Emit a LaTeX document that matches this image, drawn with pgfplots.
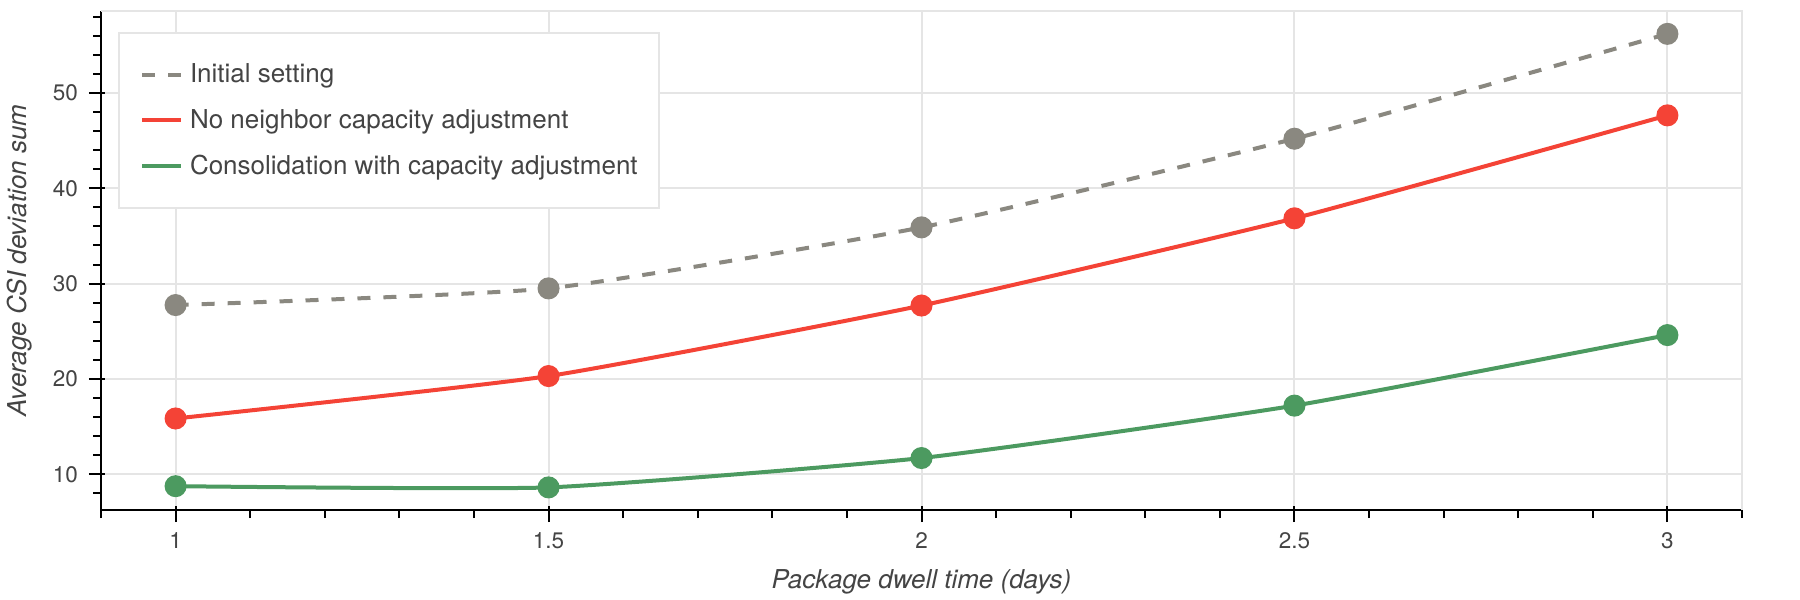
\documentclass[border=0pt]{standalone}
\usepackage{pgfplots}
\pgfplotsset{compat=1.18}
\usepackage{fontspec}
\setmainfont{TeX Gyre Heros}

\definecolor{inigray}{HTML}{8A8880}
\definecolor{nored}{HTML}{F44336}
\definecolor{congreen}{HTML}{4C9A60}
\definecolor{gridgray}{HTML}{E5E5E5}
\definecolor{txt}{HTML}{444444}

\begin{document}
\begin{tikzpicture}
\useasboundingbox (0,0) rectangle (900pt,300pt);
\begin{axis}[
  at={(50.5pt,45pt)}, anchor=south west,
  scale only axis, width=820.5pt, height=249.5pt,
  xmin=0.9, xmax=3.1, ymin=6.25, ymax=58.6,
  axis x line*=bottom, axis y line*=left,
  axis line style={black, line width=1pt},
  xtick={1,1.5,2,2.5,3},
  xticklabels={1,1.5,2,2.5,3},
  ytick={10,20,30,40,50},
  minor xtick={0.9,1.1,1.2,1.3,1.4,1.6,1.7,1.8,1.9,2.1,2.2,2.3,2.4,2.6,2.7,2.8,2.9,3.1},
  minor ytick={8,12,14,16,18,22,24,26,28,32,34,36,38,42,44,46,48,52,54,56,58},
  grid=major,
  major grid style={gridgray, line width=1pt},
  tick align=outside,
  major tick length=8pt, minor tick length=4pt,
  tick style={black, line width=1pt},
  major x tick style={yshift=2pt},
  major y tick style={xshift=2pt},
  /pgf/number format/assume math mode=true,
  ticklabel style={font=\fontsize{11.25}{13}\selectfont, text=txt},
  xticklabel style={yshift=0.5pt},
  xlabel={Package dwell time (days)},
  ylabel={Average CSI deviation sum},
  label style={font=\fontsize{13}{15}\selectfont\itshape, text=txt},
  xlabel style={at={(axis description cs:0.5,-0.1443)}, anchor=center},
  ylabel style={at={(axis description cs:-0.0494,0.5)}, anchor=center},
  legend cell align=left,
  legend style={
    at={(axis description cs:0.01036,0.9579)}, anchor=north west,
    draw=gridgray, line width=1pt, fill=white,
    font=\fontsize{13}{15}\selectfont, text=txt,
    inner xsep=10.5pt, inner ysep=9.6pt,
    row sep=0pt,
    nodes={inner sep=0pt, minimum height=22.75pt, anchor=west},
  },
  legend image code/.code={\draw[#1, line width=2pt] (0pt,0pt) -- (19.5pt,0pt); \path (23pt,0pt);},
  after end axis/.code={
    \draw[gridgray, line width=1pt] (rel axis cs:0,1) -- (rel axis cs:1,1) -- (rel axis cs:1,0);
  },
]
\addplot[inigray, line width=2pt, dash pattern=on 6.5pt off 6.5pt, smooth, tension=0.3,
  mark=*, mark size=4.5pt, mark options={solid, fill=inigray, draw=inigray}]
  coordinates {(1,27.75) (1.5,29.5) (2,35.9) (2.5,45.2) (3,56.2)};
\addlegendentry{Initial setting}
\addplot[nored, line width=2pt, smooth, tension=0.3,
  mark=*, mark size=4.5pt, mark options={fill=nored, draw=nored}]
  coordinates {(1,15.85) (1.5,20.3) (2,27.7) (2.5,36.85) (3,47.65)};
\addlegendentry{No neighbor capacity adjustment}
\addplot[congreen, line width=2pt, smooth, tension=0.3,
  mark=*, mark size=4.5pt, mark options={fill=congreen, draw=congreen}]
  coordinates {(1,8.75) (1.5,8.62) (2,11.7) (2.5,17.2) (3,24.6)};
\addlegendentry{Consolidation with capacity adjustment}
\end{axis}
\end{tikzpicture}
\end{document}
